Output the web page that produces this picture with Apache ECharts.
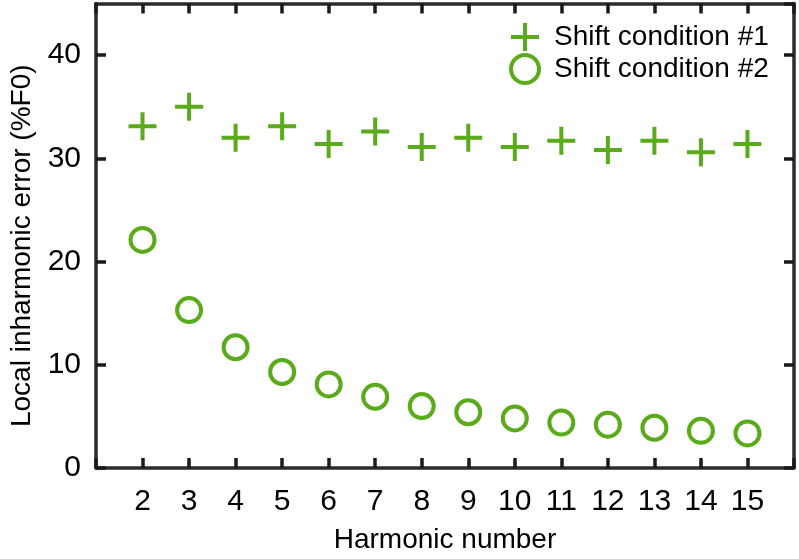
<!DOCTYPE html>
<html>
<head>
<meta charset="utf-8">
<script src="https://cdn.jsdelivr.net/npm/echarts@6/dist/echarts.min.js"></script>
<style>html,body{margin:0;padding:0;background:#fff;}#c{width:799px;height:559px;}</style>
</head>
<body>
<div id="c"></div>
<script>
const harmonics = [2,3,4,5,6,7,8,9,10,11,12,13,14,15];
const shift1 = [33.1,35.0,32.0,33.1,31.4,32.6,31.1,32.0,31.1,31.7,30.8,31.7,30.6,31.4];
const shift2 = [22.1,15.3,11.7,9.3,8.1,6.9,6.0,5.4,4.8,4.4,4.2,3.9,3.6,3.35];
const seriesNames = ['Shift condition #1','Shift condition #2'];
const xTitle = 'Harmonic number';
const yTitle = 'Local inharmonic error (%F0)';

const green = '#5aab1a';
const axisColor = '#2b2b2b';
const font = 'Liberation Sans, Arial, sans-serif';
const plusPath = 'path://M12,0 H16 V12 H28 V16 H16 V28 H12 V16 H0 V12 H12 Z';

const toPairs = arr => harmonics.map((h,i)=>[h, arr[i]]);

function axisLine(){ return {show:true, onZero:false, lineStyle:{color:axisColor, width:3.5}}; }
function axisTick(){ return {show:true, inside:true, length:10, lineStyle:{color:'#1a1a1a', width:3.5}}; }

const chart = echarts.init(document.getElementById('c'), null, {renderer:'canvas'});
chart.setOption({
  animation:false,
  backgroundColor:'#fff',
  grid:{left:94, right:5, top:3.5, bottom:89.5},
  legend:{
    orient:'vertical', left:504, top:18, itemWidth:28, itemHeight:28, itemGap:2,
    textStyle:{fontFamily:font, fontSize:28, color:'#000', padding:[0,0,0,10]},
    data:[{name:seriesNames[0]}, {name:seriesNames[1], itemStyle:{borderWidth:4, borderColor:green, color:'rgba(255,255,255,0)'}}]
  },
  xAxis:[
    {type:'value', min:1, max:16, interval:1, position:'bottom',
      name:xTitle, nameLocation:'middle', nameGap:58,
      nameTextStyle:{fontFamily:font, fontSize:28, color:'#000'},
      axisLine:axisLine(), axisTick:axisTick(), splitLine:{show:false},
      axisLabel:{fontFamily:font, fontSize:30, color:'#000', margin:19,
        formatter:v => (v>=2 && v<=15) ? String(v) : ''}},
    {type:'value', min:1, max:16, interval:1, position:'top',
      axisLine:axisLine(), axisTick:axisTick(), splitLine:{show:false},
      axisLabel:{show:false}}
  ],
  yAxis:[
    {type:'value', min:0, max:45, interval:10, position:'left',
      name:yTitle, nameLocation:'middle', nameGap:60,
      nameTextStyle:{fontFamily:font, fontSize:28, color:'#000', padding:[0,20,0,0]},
      axisLine:axisLine(), axisTick:axisTick(), splitLine:{show:false},
      axisLabel:{fontFamily:font, fontSize:30, color:'#000', margin:15, showMaxLabel:false,
        formatter:v => (v%10===0) ? String(v) : ''}},
    {type:'value', min:0, max:45, interval:10, position:'right',
      axisLine:axisLine(), axisTick:axisTick(), splitLine:{show:false},
      axisLabel:{show:false}}
  ],
  series:[
    {name:seriesNames[0], type:'scatter', data:toPairs(shift1), symbol:plusPath, symbolSize:28,
      itemStyle:{color:green, opacity:1}},
    {name:seriesNames[1], type:'scatter', data:toPairs(shift2), symbol:'circle', symbolSize:24,
      itemStyle:{color:'rgba(255,255,255,0)', borderColor:green, borderWidth:4, opacity:1}}
  ]
});
</script>
</body>
</html>
